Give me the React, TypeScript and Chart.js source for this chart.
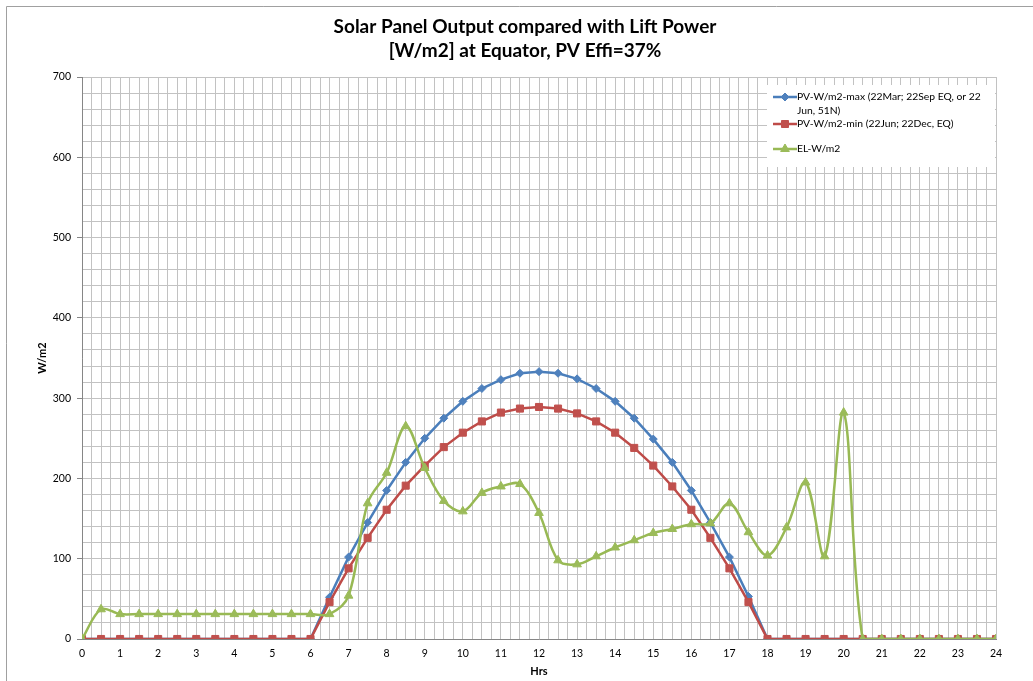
import React, { useEffect, useRef } from 'react';
import { Chart, registerables } from 'chart.js';

Chart.register(...registerables);

const titleLines = ['Solar Panel Output compared with Lift Power', '[W/m2] at Equator, PV Effi=37%'];
const xAxisTitle = 'Hrs';
const yAxisTitle = 'W/m2';

const hours = [
  0, 0.5, 1, 1.5, 2, 2.5, 3, 3.5, 4, 4.5, 5, 5.5, 6, 6.5, 7, 7.5, 8, 8.5, 9, 9.5,
  10, 10.5, 11, 11.5, 12, 12.5, 13, 13.5, 14, 14.5, 15, 15.5, 16, 16.5, 17, 17.5,
  18, 18.5, 19, 19.5, 20, 20.5, 21, 21.5, 22, 22.5, 23, 23.5, 24,
];

const pvMax = [
  0, 0, 0, 0, 0, 0, 0, 0, 0, 0, 0, 0, 0, 52, 102, 145, 185, 220, 250, 275,
  296, 312, 323, 331, 333, 331, 324, 312, 296, 275, 249, 220, 185, 145, 102, 53,
  0, 0, 0, 0, 0, 0, 0, 0, 0, 0, 0, 0, 0,
];

const pvMin = [
  0, 0, 0, 0, 0, 0, 0, 0, 0, 0, 0, 0, 0, 46, 88, 126, 161, 191, 216, 239,
  257, 271, 282, 287, 289, 287, 281, 271, 257, 238, 216, 190, 161, 126, 88, 46,
  0, 0, 0, 0, 0, 0, 0, 0, 0, 0, 0, 0, 0,
];

const elPower = [
  0, 37, 31, 31, 31, 31, 31, 31, 31, 31, 31, 31, 31, 31, 54, 169, 207, 265, 213, 172,
  159, 182, 190, 193, 157, 98, 93, 103, 114, 123, 132, 137, 143, 144, 169, 133,
  104, 139, 195, 103, 282, 0, 0, 0, 0, 0, 0, 0, 0,
];

const seriesNames = [
  ['PV-W/m2-max (22Mar; 22Sep EQ, or 22', 'Jun, 51N)'],
  ['PV-W/m2-min (22Jun; 22Dec, EQ)'],
  ['EL-W/m2'],
];
const seriesLineColors = ['#4A7EBB', '#BE4B48', '#98B954'];
const seriesMarkerColors = ['#4F81BD', '#C0504D', '#9BBB59'];
const seriesMarkers = ['rectRot', 'rect', 'triangle'];

const FONT = 'Lato';

function fitSize(ctx: CanvasRenderingContext2D, text: string, target: number, weight: string, base: number) {
  ctx.font = `${weight} ${base}px ${FONT}`;
  const w = ctx.measureText(text).width;
  return (base * target) / w;
}

function drawMarker(ctx: CanvasRenderingContext2D, kind: string, x: number, y: number, color: string) {
  ctx.fillStyle = color;
  ctx.strokeStyle = color;
  ctx.lineWidth = 1;
  ctx.beginPath();
  if (kind === 'rectRot') {
    const r = 4;
    ctx.moveTo(x - r, y);
    ctx.lineTo(x, y - r);
    ctx.lineTo(x + r, y);
    ctx.lineTo(x, y + r);
    ctx.closePath();
  } else if (kind === 'rect') {
    const s = 3.5;
    ctx.rect(x - s, y - s, 2 * s, 2 * s);
  } else {
    const r = 5;
    ctx.moveTo(x, y - r);
    ctx.lineTo(x + r * 0.866, y + r * 0.5);
    ctx.lineTo(x - r * 0.866, y + r * 0.5);
    ctx.closePath();
  }
  ctx.fill();
  ctx.stroke();
}

const decorPlugin = {
  id: 'decor',
  afterDraw(chart: any) {
    const ctx: CanvasRenderingContext2D = chart.ctx;
    ctx.save();
    // chart frame
    ctx.strokeStyle = '#A0A0A0';
    ctx.lineWidth = 1;
    ctx.beginPath();
    ctx.moveTo(6.5, 681);
    ctx.lineTo(6.5, 6.5);
    ctx.lineTo(1033, 6.5);
    ctx.stroke();

    // title
    const tSize = fitSize(ctx, titleLines[0], 383, 'bold', 20);
    ctx.font = `bold ${tSize}px ${FONT}`;
    ctx.fillStyle = '#000';
    ctx.textAlign = 'center';
    ctx.textBaseline = 'alphabetic';
    ctx.fillText(titleLines[0], 525, 33);
    ctx.fillText(titleLines[1], 525, 57);

    // legend
    ctx.fillStyle = '#FFFFFF';
    ctx.fillRect(767, 85, 228, 82);
    const lSize = fitSize(ctx, seriesNames[0][0], 184, 'normal', 11);
    const rowY = [[97, 111], [124], [149]];
    seriesNames.forEach((lines, i) => {
      const y = rowY[i][0];
      ctx.strokeStyle = seriesLineColors[i];
      ctx.lineWidth = 2.5;
      ctx.beginPath();
      ctx.moveTo(773, y);
      ctx.lineTo(797, y);
      ctx.stroke();
      drawMarker(ctx, seriesMarkers[i], 785, y, seriesMarkerColors[i]);
      ctx.font = `normal ${lSize}px ${FONT}`;
      ctx.fillStyle = '#000';
      ctx.textAlign = 'left';
      ctx.textBaseline = 'middle';
      lines.forEach((ln, j) => ctx.fillText(ln, 797, rowY[i][j]));
    });
    ctx.restore();
  },
};

export default function App() {
  const ref = useRef<HTMLCanvasElement>(null);
  useEffect(() => {
    if (!ref.current) return;
    Chart.defaults.font.family = FONT;
    const mk = (vals: number[]) => hours.map((h, i) => ({ x: h, y: vals[i] }));
    const chart = new Chart(ref.current, {
      type: 'line',
      data: {
        datasets: [
          {
            label: seriesNames[0].join(' '),
            data: mk(pvMax),
            borderColor: seriesLineColors[0],
            backgroundColor: seriesMarkerColors[0],
            pointBackgroundColor: seriesMarkerColors[0],
            pointBorderColor: seriesMarkerColors[0],
            pointStyle: 'rectRot',
            pointRadius: 4,
            pointBorderWidth: 1,
            borderWidth: 2.5,
            tension: 0,
            order: 3,
          },
          {
            label: seriesNames[1].join(' '),
            data: mk(pvMin),
            borderColor: seriesLineColors[1],
            backgroundColor: seriesMarkerColors[1],
            pointBackgroundColor: seriesMarkerColors[1],
            pointBorderColor: seriesMarkerColors[1],
            pointStyle: 'rect',
            pointRadius: 5,
            pointBorderWidth: 1,
            borderWidth: 2.5,
            tension: 0,
            order: 2,
          },
          {
            label: seriesNames[2].join(' '),
            data: mk(elPower),
            borderColor: seriesLineColors[2],
            backgroundColor: seriesMarkerColors[2],
            pointBackgroundColor: seriesMarkerColors[2],
            pointBorderColor: seriesMarkerColors[2],
            pointStyle: 'triangle',
            pointRadius: 5,
            pointBorderWidth: 1,
            borderWidth: 2.5,
            tension: 0.35,
            order: 1,
          },
        ],
      },
      options: {
        responsive: false,
        animation: false,
        devicePixelRatio: 1,
        layout: { padding: { left: 0, top: 77, right: 37, bottom: 0 } },
        plugins: { legend: { display: false }, tooltip: { enabled: false }, title: { display: false } },
        scales: {
          x: {
            type: 'linear',
            min: 0,
            max: 24,
            ticks: {
              stepSize: 0.25,
              autoSkip: false,
              maxRotation: 0,
              padding: 8,
              color: '#000',
              font: { family: FONT, size: 10.5 },
              callback: (v: any) => (Number.isInteger(v) ? String(v) : ''),
            },
            grid: { color: '#C2C2C2', drawTicks: false, lineWidth: 1 },
            border: { color: '#868686' },
            title: {
              display: true,
              text: xAxisTitle,
              color: '#000',
              font: { family: FONT, size: 11, weight: 'bold' },
              padding: { top: 0, bottom: 3 },
            },
            afterFit: (s: any) => {
              s.height = 42;
            },
          },
          y: {
            type: 'linear',
            min: 0,
            max: 700,
            ticks: {
              stepSize: 20,
              autoSkip: false,
              padding: 6,
              color: '#000',
              font: { family: FONT, size: 10.5 },
              callback: (v: any) => (v % 100 === 0 ? String(v) : ''),
            },
            grid: {
              color: '#C2C2C2',
              tickLength: 5,
              tickColor: (c: any) => (c.tick && c.tick.value % 100 === 0 ? '#868686' : 'rgba(0,0,0,0)'),
            },
            border: { color: '#868686' },
            title: {
              display: true,
              text: yAxisTitle,
              color: '#000',
              font: { family: FONT, size: 11, weight: 'bold' },
              padding: { top: 36, bottom: 0 },
            },
            afterFit: (s: any) => {
              s.width = 82;
            },
          },
        },
      },
      plugins: [decorPlugin],
    } as any);
    return () => chart.destroy();
  }, []);
  return (
    <div style={{ position: 'fixed', left: 0, top: 0, width: 1033, height: 681, background: '#fff' }}>
      <canvas ref={ref} width={1033} height={681} style={{ display: 'block' }} />
    </div>
  );
}
